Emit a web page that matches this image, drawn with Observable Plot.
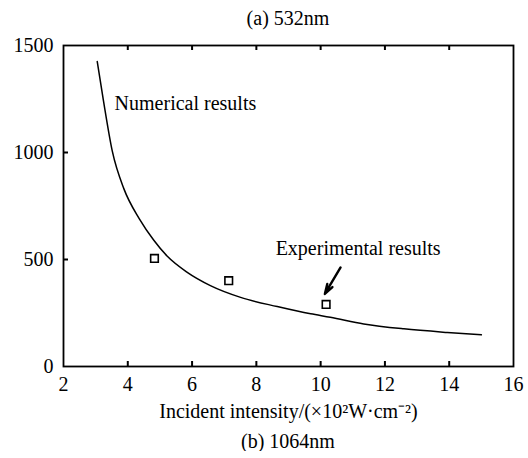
<!DOCTYPE html>
<html><head><meta charset="utf-8">
<script src="https://cdn.jsdelivr.net/npm/d3@7"></script>
<script src="https://cdn.jsdelivr.net/npm/@observablehq/plot@0.6"></script>
<style>
body{margin:0;background:#fff;font-family:"Liberation Serif","Times New Roman",serif;color:#000;}
.cap{width:528px;box-sizing:border-box;padding-left:63px;padding-right:15px;text-align:center;font-size:20px;}
</style></head><body>
<div class="cap" style="height:36px;line-height:36px">(a) 532nm</div>
<div id="chart"></div>
<div class="cap" style="line-height:20px;margin-top:3px">(b) 1064nm</div>
<script>
// Numerical curve
const curveX = [3.05, 3.24, 3.52, 3.88, 4.36, 4.81, 5.23, 5.85, 6.57, 7.51, 8.65, 9.69, 10.3, 11.34, 12.59, 13.94, 15.0];
const curveY = [1425, 1245, 1005, 830, 690, 590, 515, 440, 378, 323, 280, 246, 230, 199, 176, 159, 148];
// Experimental points
const expX = [4.83, 7.14, 10.17];
const expY = [505, 401, 290];
// Ticks
const xTicks = [2, 4, 6, 8, 10, 12, 14, 16];
const yTicks = [0, 500, 1000, 1500];
const xInnerTicks = [4, 6, 8, 10, 12, 14];
const yInnerTicks = [500, 1000];
// Annotations
const noteText = ["Numerical results", "Experimental results"];
const noteX = [3.59, 8.6];
const noteY = [1227, 551];
const arrowX1 = [10.62], arrowY1 = [463], arrowX2 = [10.13], arrowY2 = [339];

const xLabel = "Incident intensity/(\u00d710\u00b2W\u00b7cm\u207b\u00b2)";

const curve = curveX.map((x, i) => ({x, y: curveY[i]}));
const exp = expX.map((x, i) => ({x, y: expY[i]}));
const notes = noteText.map((t, i) => ({t, x: noteX[i], y: noteY[i]}));
const arrows = arrowX1.map((x1, i) => ({x1, y1: arrowY1[i], x2: arrowX2[i], y2: arrowY2[i]}));

const W = 528, H = 392, mL = 63, mR = 15, mT = 9, mB = 62;
const fw = W - mL - mR, fh = H - mT - mB;

const chart = Plot.plot({
  width: W, height: H,
  marginLeft: mL, marginRight: mR, marginTop: mT, marginBottom: mB,
  style: {fontFamily: "Liberation Serif, Times New Roman, serif", fontSize: "20px", color: "#000", background: "#fff", overflow: "visible"},
  x: {domain: [2, 16]},
  y: {domain: [0, 1500]},
  marks: [
    Plot.axisX({ticks: xTicks, tickSize: 0, tickPadding: 10, tickFormat: d => String(d), label: xLabel, labelArrow: "none", labelAnchor: "center", labelOffset: 51, fontSize: 20}),
    Plot.axisY({ticks: yTicks, tickSize: 0, tickPadding: 10, tickFormat: d => String(d), label: null, fontSize: 20}),
    Plot.ruleX(xInnerTicks, {x: d => d, insetTop: fh - 5, stroke: "#000", strokeWidth: 2}),
    Plot.ruleX(xInnerTicks, {x: d => d, insetBottom: fh - 5, stroke: "#000", strokeWidth: 2}),
    Plot.ruleY(yInnerTicks, {y: d => d, insetRight: fw - 5, stroke: "#000", strokeWidth: 2}),
    Plot.frame({stroke: "#000", strokeWidth: 1.8}),
    Plot.line(curve, {x: "x", y: "y", stroke: "#000", strokeWidth: 1.5, curve: "monotone-x"}),
    Plot.dot(exp, {x: "x", y: "y", symbol: "square", r: 4.3, fill: "#fff", stroke: "#000", strokeWidth: 1.6}),
    Plot.arrow(arrows, {x1: "x1", y1: "y1", x2: "x2", y2: "y2", stroke: "#000", strokeWidth: 2.4, headLength: 12, headAngle: 34}),
    Plot.text(notes, {x: "x", y: "y", text: "t", textAnchor: "start", lineAnchor: "middle", fontSize: 20, fill: "#000"})
  ]
});
document.getElementById("chart").appendChild(chart);
</script>
</body></html>
